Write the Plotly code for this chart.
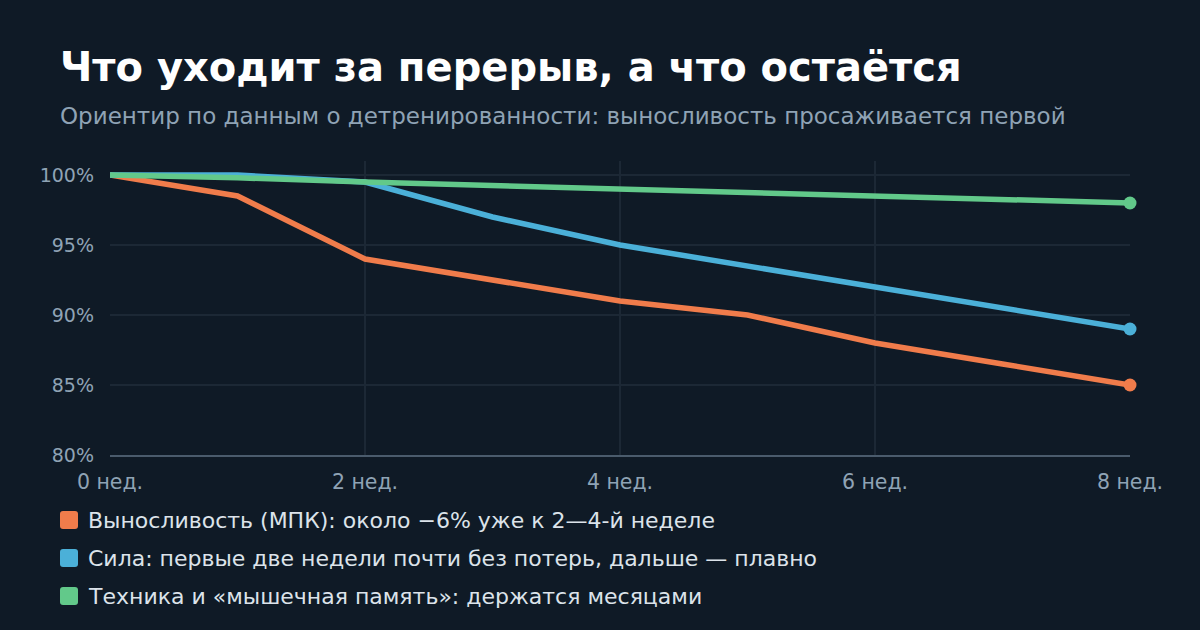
import plotly.graph_objects as go

weeks = [0, 1, 2, 3, 4, 5, 6, 7, 8]
endurance = [100, 98.5, 94, 92.5, 91, 90, 88, 86.5, 85]
strength = [100, 100, 99.5, 97, 95, 93.5, 92, 90.5, 89]
technique = [100, 99.8, 99.5, 99.25, 99, 98.75, 98.5, 98.25, 98]

names = [
    "Выносливость (МПК): около −6% уже к 2—4-й неделе",
    "Сила: первые две недели почти без потерь, дальше — плавно",
    "Техника и «мышечная память»: держатся месяцами",
]
colors = ["#f07c4b", "#4bb0d8", "#62c98a"]
series = [endurance, strength, technique]

x_ticks = [0, 2, 4, 6, 8]
x_labels = ["0 нед.", "2 нед.", "4 нед.", "6 нед.", "8 нед."]
y_ticks = [80, 85, 90, 95, 100]
y_labels = ["80%", "85%", "90%", "95%", "100%"]

W, H = 1200, 630
L, R, T, B = 110, 70, 161, 175
FONT = "DejaVu Sans"
BG = "#0f1a26"


def px(x):
    return (x - L) / (W - L - R)


def py(y):
    return (H - B - y) / (H - T - B)


fig = go.Figure()

for vals, name, c in zip(series, names, colors):
    fig.add_trace(go.Scatter(x=weeks, y=vals, mode="lines", name=name,
                             line=dict(color=c, width=5.5), showlegend=False,
                             hoverinfo="skip", cliponaxis=False))
    fig.add_trace(go.Scatter(x=weeks[-1:], y=vals[-1:], mode="markers",
                             marker=dict(color=c, size=13), showlegend=False,
                             hoverinfo="skip", cliponaxis=False))

annotations = [
    dict(text="<b>Что уходит за перерыв, а что остаётся</b>", x=px(58), y=py(67),
         xref="paper", yref="paper", xanchor="left", yanchor="middle", showarrow=False,
         font=dict(family=FONT, size=40, color="#ffffff")),
    dict(text="Ориентир по данным о детренированности: выносливость просаживается первой",
         x=px(58), y=py(116), xref="paper", yref="paper", xanchor="left", yanchor="middle",
         showarrow=False, font=dict(family=FONT, size=23, color="#8fa3b5")),
]
shapes = []
for i, (name, c) in enumerate(zip(names, colors)):
    cy = 520 + i * 38
    annotations.append(dict(text=name, x=px(86), y=py(cy), xref="paper", yref="paper",
                            xanchor="left", yanchor="middle", showarrow=False,
                            font=dict(family=FONT, size=22, color="#dce3ea")))
    x0, x1, y0, y1, r = 60, 78, cy - 9, cy + 9, 3
    path = (f"M {px(x0 + r)} {py(y0)} L {px(x1 - r)} {py(y0)} "
            f"Q {px(x1)} {py(y0)} {px(x1)} {py(y0 + r)} L {px(x1)} {py(y1 - r)} "
            f"Q {px(x1)} {py(y1)} {px(x1 - r)} {py(y1)} L {px(x0 + r)} {py(y1)} "
            f"Q {px(x0)} {py(y1)} {px(x0)} {py(y1 - r)} L {px(x0)} {py(y0 + r)} "
            f"Q {px(x0)} {py(y0)} {px(x0 + r)} {py(y0)} Z")
    shapes.append(dict(type="path", path=path, xref="paper", yref="paper",
                       fillcolor=c, line=dict(width=0)))

fig.update_layout(
    width=W, height=H,
    margin=dict(l=L, r=R, t=T, b=B),
    paper_bgcolor=BG, plot_bgcolor=BG,
    annotations=annotations, shapes=shapes,
    font=dict(family=FONT, size=18, color="#8fa3b5"),
)
fig.update_xaxes(range=[0, 8], tickvals=x_ticks, ticktext=x_labels,
                 showgrid=True, gridcolor="#1c2835", gridwidth=1.5,
                 showline=True, linecolor="#4a5b6c", linewidth=2,
                 zeroline=False, ticks="", ticklabelstandoff=7,
                 tickfont=dict(family=FONT, size=20.5, color="#8fa3b5"))
fig.update_yaxes(range=[80, 101], tickvals=y_ticks, ticktext=y_labels,
                 showgrid=True, gridcolor="#1c2835", gridwidth=1.5,
                 zeroline=False, ticks="", ticklabelstandoff=15,
                 tickfont=dict(family=FONT, size=19, color="#8fa3b5"))

fig.write_html("out.html", config={"displayModeBar": False},
               post_script="document.body.style.margin='0';")
